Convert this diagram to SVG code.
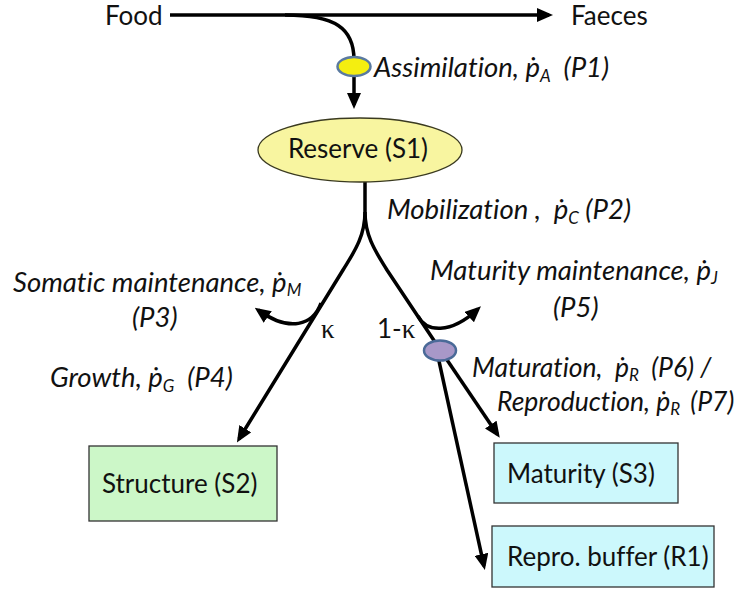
<svg xmlns="http://www.w3.org/2000/svg" width="742" height="591" viewBox="0 0 742 591">
<style>
text{font-family:Lato,"Open Sans","Liberation Sans",sans-serif;font-size:26px;fill:#111;white-space:pre;font-variant-ligatures:none}
.it{font-style:italic;font-size:27.5px}
.it2{font-style:italic;font-size:26.5px}
.sub{font-size:17px}
.k{font-family:"Liberation Serif","DejaVu Serif",serif;font-size:27px}
.ln{fill:none;stroke:#000;stroke-width:3.5}
.box{stroke:#333;stroke-width:1.3}
</style>
<defs>
<marker id="ah" viewBox="0 0 16 14" refX="12" refY="7" markerWidth="16" markerHeight="14" markerUnits="userSpaceOnUse" orient="auto">
<path d="M0,0 L16,7 L0,14 z" fill="#000"/>
</marker>
</defs>
<g id="connectors">
<path class="ln" d="M170 15 L549 15" marker-end="url(#ah)"/>
<path class="ln" d="M285 15 C335 15 354 28 354 60"/>
<path class="ln" d="M354 72 L354 105" marker-end="url(#ah)"/>
<path class="ln" d="M365 180 L365 212 C365 238 352 255 343 270 L239 439" marker-end="url(#ah)"/>
<path class="ln" d="M365 212 C365 238 378 255 387 270 L441 351"/>
<path class="ln" d="M321 303 C313 325 290 333 258 310" marker-end="url(#ah)"/>
<path class="ln" d="M418 316 C426 332 450 335 478 309" marker-end="url(#ah)"/>
<path class="ln" d="M441 351 L497.5 434.5" marker-end="url(#ah)"/>
<path class="ln" d="M437 352 L484 566" marker-end="url(#ah)"/>
</g>
<g id="food"><text x="105" y="25">Food</text></g>
<g id="faeces"><text x="571" y="25">Faeces</text></g>
<g id="assimilation">
<ellipse cx="354" cy="66.5" rx="16.5" ry="9.5" fill="#f4ee10" stroke="#5a7aa0" stroke-width="2.5"/>
<text class="it" x="374" y="77">Assimilation, ṗ<tspan class="sub" dy="5">A</tspan><tspan dy="-5">  (P1)</tspan></text>
</g>
<g id="reserve">
<ellipse cx="360" cy="150" rx="102" ry="32" fill="#f8f5a0" stroke="#3a3a20" stroke-width="1.3"/>
<text x="358" y="158" text-anchor="middle">Reserve (S1)</text>
</g>
<g id="mobilization"><text class="it" x="387" y="219">Mobilization ,  ṗ<tspan class="sub" dy="5">C</tspan><tspan dy="-5"> (P2)</tspan></text></g>
<g id="somatic">
<text class="it" x="13" y="292">Somatic maintenance, ṗ<tspan class="sub" font-size="21" dy="4">M</tspan></text>
<text class="it" x="132" y="327">(P3)</text>
</g>
<g id="kappa"><text class="k" x="321" y="338">κ</text><text x="377" y="338">1-<tspan class="k">κ</tspan></text></g>
<g id="maturity-maint">
<text class="it" x="430" y="280">Maturity maintenance, ṗ<tspan class="sub" dy="4">J</tspan></text>
<text class="it" x="553" y="317">(P5)</text>
</g>
<g id="growth"><text class="it" x="50" y="387">Growth, ṗ<tspan class="sub" dy="5">G</tspan><tspan dy="-5">  (P4)</tspan></text></g>
<g id="maturation">
<ellipse cx="440" cy="350.5" rx="16" ry="10" fill="#a898c8" stroke="#4a6a98" stroke-width="2.5"/>
<text class="it2" x="472" y="377">Maturation,  ṗ<tspan class="sub" dy="4">R</tspan><tspan dy="-4">  (P6) /</tspan></text>
<text class="it2" x="497" y="411">Reproduction, ṗ<tspan class="sub" dy="4">R</tspan><tspan dy="-4" dx="4"> (P7)</tspan></text>
</g>
<g id="structure">
<rect class="box" x="89" y="446" width="188" height="75" fill="#ccf7c8"/>
<text x="102" y="493">Structure (S2)</text>
</g>
<g id="maturity">
<rect class="box" x="494" y="443" width="184" height="60" fill="#ccf8fc"/>
<text x="507" y="483">Maturity (S3)</text>
</g>
<g id="repro">
<rect class="box" x="492" y="526" width="222" height="61" fill="#ccf8fc"/>
<text x="507" y="566">Repro. buffer (R1)</text>
</g>
</svg>
